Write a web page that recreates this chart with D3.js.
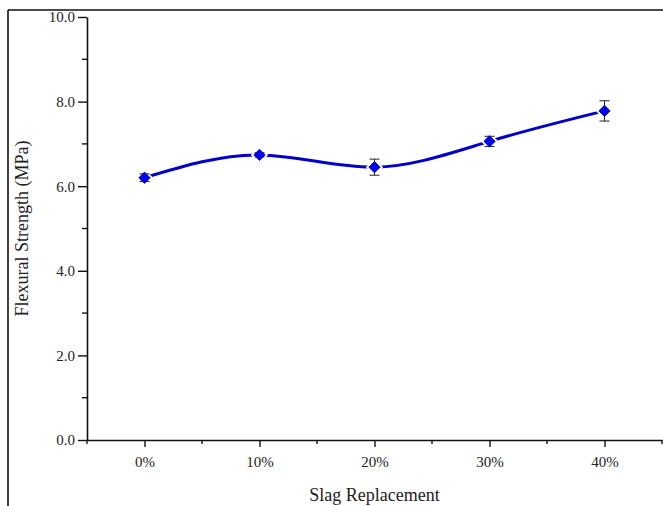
<!DOCTYPE html>
<html>
<head>
<meta charset="utf-8">
<script src="https://cdn.jsdelivr.net/npm/d3@7"></script>
<style>
  body { margin: 0; background: #fff; }
  svg { display: block; }
  svg text { font-family: "Liberation Serif", "DejaVu Serif", "Times New Roman", serif; }
</style>
</head>
<body>
<svg id="chart" width="663" height="506"></svg>
<script>
// Flexural strength vs slag replacement
var categories = ["0%", "10%", "20%", "30%", "40%"]
var strength = [6.2, 6.74, 6.45, 7.06, 7.78]
var errors = [0.09, 0.05, 0.19, 0.12, 0.24]
var yTicks = [0, 2, 4, 6, 8, 10]

var dimensions = {
    width: 663,
    height: 506,
    margin: { top: 17, bottom: 66, left: 87, right: 1 }
}

var svg = d3.select("#chart")
var font = "Liberation Serif, DejaVu Serif, serif"

var dataset = categories.map((c, i) => ({ cat: c, idx: i, val: strength[i], err: errors[i] }))

var xScale = d3.scaleLinear()
    .domain([-0.5, 4.5])
    .range([dimensions.margin.left, dimensions.width - dimensions.margin.right])

var yScale = d3.scaleLinear()
    .domain([0, 10])
    .range([dimensions.height - dimensions.margin.bottom, dimensions.margin.top])

var x0 = dimensions.margin.left
var y0 = dimensions.height - dimensions.margin.bottom

// outer frame (top + left)
svg.append("line").attr("x1", 8).attr("x2", 663).attr("y1", 10).attr("y2", 10)
    .attr("stroke", "#111").attr("stroke-width", 1.6)
svg.append("line").attr("x1", 8).attr("x2", 8).attr("y1", 10).attr("y2", 506)
    .attr("stroke", "#111").attr("stroke-width", 1.6)

// y axis
var yAxis = svg.append("g").attr("transform", `translate(${x0},0)`)
yAxis.call(d3.axisLeft(yScale).tickValues(yTicks).tickSize(9).tickSizeOuter(0)
    .tickFormat(d3.format(".1f")))
yAxis.attr("font-family", null)
yAxis.select(".domain").attr("stroke", "#111").attr("stroke-width", 1.6)
yAxis.selectAll(".tick line").attr("stroke", "#111").attr("stroke-width", 1.4)
yAxis.selectAll("text").style("font-family", font).style("font-size", "15px").attr("fill", "#222").attr("x", -12)
svg.append("g").selectAll("line")
    .data([1, 3, 5, 7, 9])
    .enter().append("line")
    .attr("x1", x0 - 5).attr("x2", x0)
    .attr("y1", d => yScale(d)).attr("y2", d => yScale(d))
    .attr("stroke", "#111").attr("stroke-width", 1.4)

// x axis
var xAxis = svg.append("g").attr("transform", `translate(0,${y0})`)
xAxis.call(d3.axisBottom(xScale).tickValues([0, 1, 2, 3, 4]).tickSize(7).tickSizeOuter(0)
    .tickFormat(d => categories[d]))
xAxis.attr("font-family", null)
xAxis.select(".domain").attr("stroke", "#111").attr("stroke-width", 1.6)
xAxis.selectAll(".tick line").attr("stroke", "#111").attr("stroke-width", 1.4)
xAxis.selectAll("text").style("font-family", font).style("font-size", "15px").attr("fill", "#222").attr("y", 16)
svg.append("g").selectAll("line")
    .data([-0.5, 0.5, 1.5, 2.5, 3.5, 4.5])
    .enter().append("line")
    .attr("x1", d => xScale(d)).attr("x2", d => xScale(d))
    .attr("y1", y0).attr("y2", y0 + 4)
    .attr("stroke", "#111").attr("stroke-width", 1.4)

// axis titles
svg.append("text")
    .attr("transform", `translate(28,${(yScale(0) + yScale(10)) / 2}) rotate(-90)`)
    .attr("text-anchor", "middle")
    .style("font-family", font).style("font-size", "18px").attr("fill", "#222")
    .text("Flexural Strength (MPa)")
svg.append("text")
    .attr("x", (xScale(-0.5) + xScale(4.5)) / 2).attr("y", 501)
    .attr("text-anchor", "middle")
    .style("font-family", font).style("font-size", "18px").attr("fill", "#222")
    .text("Slag Replacement")

// spline
var line = d3.line()
    .x(d => xScale(d.idx))
    .y(d => yScale(d.val))
    .curve(d3.curveNatural)
svg.append("path")
    .datum(dataset)
    .attr("d", line)
    .attr("fill", "none")
    .attr("stroke", "#0000c8")
    .attr("stroke-width", 3)

var diamond = d3.symbol().type(d3.symbolSquare)

// white halo behind markers
svg.append("g").selectAll("path")
    .data(dataset)
    .enter().append("path")
    .attr("d", diamond.size(150)())
    .attr("transform", d => `translate(${xScale(d.idx)},${yScale(d.val)}) rotate(45)`)
    .attr("fill", "#fff")

// error bars
var eb = svg.append("g").selectAll("g")
    .data(dataset)
    .enter().append("g")
    .attr("stroke", "#222").attr("stroke-width", 1)
eb.append("line")
    .attr("x1", d => xScale(d.idx)).attr("x2", d => xScale(d.idx))
    .attr("y1", d => yScale(d.val + d.err)).attr("y2", d => yScale(d.val - d.err))
eb.append("line")
    .attr("x1", d => xScale(d.idx) - 5).attr("x2", d => xScale(d.idx) + 5)
    .attr("y1", d => yScale(d.val + d.err)).attr("y2", d => yScale(d.val + d.err))
eb.append("line")
    .attr("x1", d => xScale(d.idx) - 5).attr("x2", d => xScale(d.idx) + 5)
    .attr("y1", d => yScale(d.val - d.err)).attr("y2", d => yScale(d.val - d.err))

// markers
svg.append("g").selectAll("path")
    .data(dataset)
    .enter().append("path")
    .attr("d", diamond.size(64)())
    .attr("transform", d => `translate(${xScale(d.idx)},${yScale(d.val)}) rotate(45)`)
    .attr("fill", "#0000ee")
    .attr("stroke", "#0000aa")
    .attr("stroke-width", 0.8)
</script>
</body>
</html>
